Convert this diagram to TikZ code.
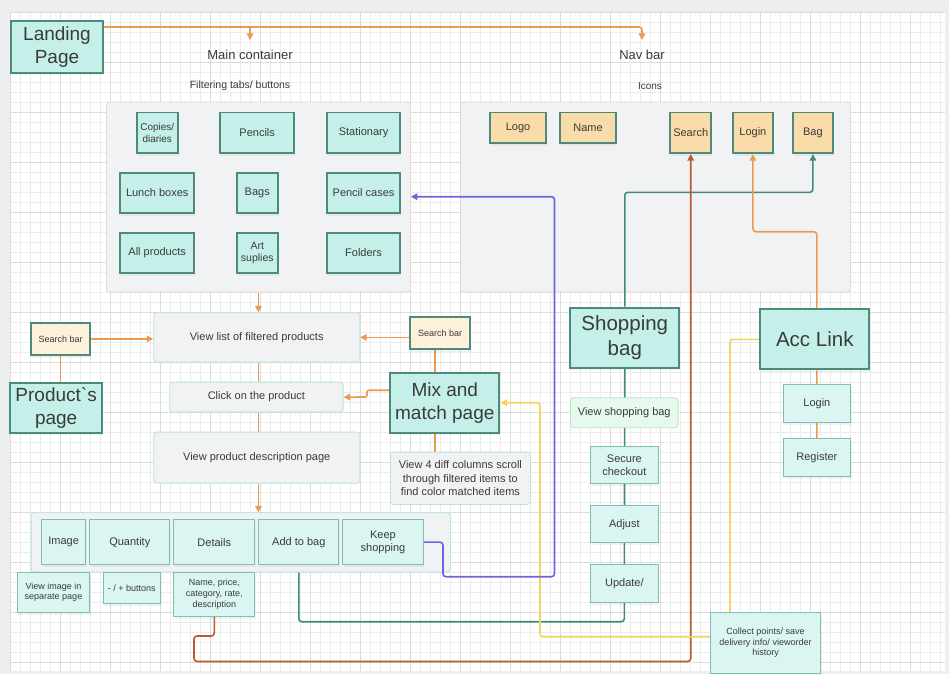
\documentclass[tikz,border=0pt]{standalone}
\usepackage{fontspec}
\setmainfont{Liberation Sans}
\newfontfamily\lsans{Liberation Sans}
\usetikzlibrary{arrows.meta,shadows}
\pgfdeclarelayer{bg}\pgfdeclarelayer{cont}\pgfdeclarelayer{mid}
\pgfsetlayers{bg,cont,mid,main}
\definecolor{bgout}{HTML}{EDEEF0}
\definecolor{gminorc}{HTML}{ECECEC}
\definecolor{gmajorc}{HTML}{DCDCDC}
\definecolor{txt}{HTML}{3A3A3A}
\definecolor{tealfill}{HTML}{C5F0E9}
\definecolor{tealdark}{HTML}{4E8A7B}
\definecolor{lteal}{HTML}{DBF6F2}
\definecolor{tealmid}{HTML}{7EBFB3}
\definecolor{greyfill}{HTML}{F1F2F4}
\definecolor{peach}{HTML}{F1D6C2}
\definecolor{greyedge}{HTML}{B9E3DB}
\definecolor{orfill}{HTML}{F9DCA9}
\definecolor{cream}{HTML}{FDF1DB}
\definecolor{gfill}{HTML}{E7F8EC}
\definecolor{gedge}{HTML}{B8E6C6}
\definecolor{orangec}{HTML}{EA9B50}
\definecolor{brownc}{HTML}{B65C2F}
\definecolor{tealline}{HTML}{3F8B7A}
\definecolor{yellowc}{HTML}{F4D35E}
\definecolor{purplec}{HTML}{6E63E0}
\newcommand\fsz[1]{\fontsize{#1}{\dimexpr #1pt*6/5\relax}\selectfont}
\newcommand\rbox[7]{\node[#1, anchor=north west, minimum width={(#4)-(#2)}, minimum height={(#5)-(#3)}] (#6) at (#2,#3) {#7};}
\tikzset{
  every node/.style={text=txt, align=center, inner sep=1pt, font=\lsans\fsz{11}},
  fs/.style={font=\lsans\fsz{#1}},
  sh/.style={drop shadow={opacity=0.10, shadow xshift=1pt, shadow yshift=-2.5pt}},
  bigbox/.style={draw=tealdark, line width=2pt, fill=tealfill, sh, fs=19},
  ibox/.style={draw=tealdark, line width=1.8pt, fill=tealfill, sh},
  obox/.style={draw=tealdark, line width=1.8pt, fill=orfill, sh},
  sbox/.style={draw=tealdark, line width=1.8pt, fill=cream, sh, fs=9},
  lbox/.style={draw=tealmid, line width=1pt, fill=lteal, sh},
  gbox/.style={draw=greyedge, line width=0.8pt, fill=greyfill, rounded corners=3pt},
  pbox/.style={draw=peach, line width=0.8pt, fill=greyfill, rounded corners=3pt},
  vbox/.style={draw=gedge, line width=0.8pt, fill=gfill, rounded corners=3pt},
  tip/.style={-{Triangle[width=6.5pt,length=6.5pt]}},
  conn/.style={line width=1.6pt, rounded corners=3pt},
  oline/.style={conn, draw=orangec},
  bline/.style={conn, draw=brownc},
  tline/.style={conn, draw=tealline},
  yline/.style={conn, draw=yellowc},
  pline/.style={conn, draw=purplec},
}
\begin{document}
\begin{tikzpicture}[x=1pt,y=-1pt]
\useasboundingbox (0,0) rectangle (949,674);
\begin{pgfonlayer}{bg}
\fill[bgout] (0,0) rectangle (949,674);
\fill[white] (10,12) rectangle (945,671);
\foreach \x in {10,20,...,940} \draw[gminorc, line width=0.6pt] (\x,12) -- (\x,671);
\foreach \y in {12,22,...,670} \draw[gminorc, line width=0.6pt] (10,\y) -- (945,\y);
\foreach \x in {10,60,...,910} \draw[gmajorc, line width=0.9pt] (\x,12) -- (\x,671);
\foreach \y in {12,62,...,662} \draw[gmajorc, line width=0.9pt] (10,\y) -- (945,\y);
\end{pgfonlayer}
\begin{pgfonlayer}{cont}
\rbox{pbox}{106}{101.7}{410}{291.7}{maincont}{}
\rbox{pbox}{460}{101.7}{850}{291.7}{navcont}{}
\rbox{gbox}{30.7}{512.3}{450}{571.7}{dcont}{}
\end{pgfonlayer}
% titles
\node[fs=13] (tmain) at (250,55) {Main container};
\node[fs=13] (tnav) at (642,55) {Nav bar};
\node[fs=10.5] (tfilt) at (240,86) {Filtering tabs/ buttons};
\node[fs=10] (ticons) at (650,86) {Icons};
% big boxes
\rbox{bigbox}{10}{20}{102}{72}{landing}{Landing\\Page}
\rbox{bigbox}{9.3}{381.7}{101}{431.7}{prodpage}{Product`s\\page}
\rbox{bigbox}{389.3}{371.7}{498.3}{431.7}{mix}{Mix and\\match page}
\rbox{bigbox, fs=20.5}{569.3}{306.7}{678.3}{366.7}{shopbag}{Shopping\\bag}
\rbox{bigbox, fs=20.5}{759.3}{308.3}{868.3}{368.3}{acclink}{Acc Link}
% filter tabs
\rbox{ibox, fs=10}{136}{111.7}{176.7}{152.3}{copies}{Copies/\\diaries}
\rbox{ibox}{219.3}{111.7}{293.3}{152.3}{pencils}{Pencils}
\rbox{ibox}{326}{111.7}{399.3}{152.3}{stationary}{Stationary}
\rbox{ibox}{119.3}{171.7}{193.3}{212.3}{lunch}{Lunch boxes}
\rbox{ibox}{236}{171.7}{276.7}{212.3}{bags}{Bags}
\rbox{ibox}{326}{171.7}{399.3}{212.3}{pcases}{Pencil cases}
\rbox{ibox}{119.3}{231.7}{193.3}{272.3}{allprod}{All products}
\rbox{ibox, fs=10.5}{236}{231.7}{276.7}{272.3}{art}{Art\\suplies}
\rbox{ibox}{326}{231.7}{399.3}{272.3}{folders}{Folders}
% nav icons
\rbox{obox}{489.3}{111.7}{545}{142.3}{logo}{Logo}
\rbox{obox}{559.3}{111.7}{615}{142.3}{name}{Name}
\rbox{obox}{669.3}{111.7}{710.3}{152.3}{search}{Search}
\rbox{obox}{731.7}{111.7}{772.3}{152.3}{loginnav}{Login}
\rbox{obox}{791.7}{111.7}{832.3}{152.3}{bagnav}{Bag}
% flow
\rbox{gbox}{153.3}{312.3}{359.3}{361.7}{viewlist}{View list of filtered products}
\rbox{sbox}{30}{321.7}{89.3}{354.3}{sbl}{Search bar}
\rbox{sbox}{409.3}{315.7}{469.3}{348.3}{sbr}{Search bar}
\rbox{gbox}{169.3}{381.7}{342.7}{411.7}{click}{Click on the product}
\rbox{gbox}{153.3}{431.7}{359.3}{482.7}{vpd}{View product description page}
\rbox{gbox}{390}{451.7}{530}{504}{view4}{View 4 diff columns scroll\\through filtered items to\\find color matched items}
% details row
\rbox{lbox}{41}{519.3}{85.3}{564}{image}{Image}
\rbox{lbox}{89.3}{519.3}{169.3}{564}{quantity}{Quantity}
\rbox{lbox}{173.3}{519.3}{254.3}{564}{details}{Details}
\rbox{lbox}{258.3}{519.3}{338.3}{564}{addbag}{Add to bag}
\rbox{lbox}{342.3}{519.3}{422.7}{564}{keep}{Keep\\shopping}
\rbox{lbox, fs=9}{16.7}{571.7}{89.3}{611.7}{note1}{View image in\\separate page}
\rbox{lbox, fs=9}{102.7}{571.7}{160}{603.3}{note2}{- / + buttons}
\rbox{lbox, fs=9}{173.3}{571.7}{254.3}{616}{note3}{Name, price,\\category, rate,\\description}
% shopping bag chain
\rbox{vbox}{570}{397.3}{677.7}{427.3}{vsb}{View shopping bag}
\rbox{lbox}{590}{446}{657.7}{483.3}{secure}{Secure\\checkout}
\rbox{lbox}{590}{505}{657.7}{542.3}{adjust}{Adjust}
\rbox{lbox}{590}{564}{657.7}{601.7}{update}{Update/}
% account chain
\rbox{lbox}{782.7}{384.3}{850}{422.3}{login}{Login}
\rbox{lbox}{782.7}{438.3}{850}{476}{register}{Register}
\rbox{lbox, fs=9}{710}{611.7}{820}{672.7}{collect}{Collect points/ save\\delivery info/ vieworder\\history}
% helper coordinates
\coordinate (mcend) at (250,40);
\coordinate (nbend) at (642,40);
\coordinate (lpout) at (102,27);
\coordinate (mj) at (367,397);
\coordinate (mx) at (435,0);
\coordinate (tj) at (0,192.3);
\coordinate (yb) at (0,621.7);
\coordinate (b1) at (194,636);
\coordinate (b2) at (194,661.5);
\coordinate (oj) at (0,231.7);
\coordinate (yj) at (730,0);
\coordinate (yk) at (540,0);
\coordinate (pA) at (443,576.7);
\coordinate (pB) at (554.5,196.7);
\begin{pgfonlayer}{mid}
% landing page
\draw[oline, tip] (lpout) -| (nbend);
\draw[oline, tip] (mcend |- lpout) -- (mcend);
% main flow
\draw[oline, tip] (maincont.south) -- (maincont.south |- viewlist.north);
\draw[oline, tip] (sbl.east) -- (sbl.east -| viewlist.west);
\draw[oline] (sbl.south) -- (sbl.south |- prodpage.north);
\draw[oline, tip] (sbr.west |- viewlist.east) -- (viewlist.east);
\draw[oline] (mx |- sbr.south) -- (mx |- mix.north);
\draw[oline, tip, rounded corners=2pt] ([yshift=12.5pt]mix.west) -| (mj) -- (click.east);
\draw[oline] (maincont.south |- viewlist.south) -- (maincont.south |- click.north);
\draw[oline] (maincont.south |- click.south) -- (maincont.south |- vpd.north);
\draw[oline, tip] (maincont.south |- vpd.south) -- (maincont.south |- dcont.north);
\draw[oline] (mx |- mix.south) -- (mx |- view4.north);
% shopping bag
\draw[tline] (shopbag.south) -- (update.north);
\draw[tline, tip] (shopbag.north) -- (shopbag.north |- tj) -| (bagnav.south);
\draw[tline] (addbag.south |- dcont.south) -- (addbag.south |- yb) -| (update.south);
% search (brown)
\draw[bline, tip] (note3.south) |- (b1) -- (b2) -| (search.south);
% account
\draw[oline, tip] ([xshift=2pt]acclink.north) -- ([xshift=2pt]acclink.north |- oj) -| (loginnav.south);
\draw[oline] ([xshift=2pt]acclink.south) -- (register.north);
\draw[yline] (acclink.west) -| (yj |- collect.north);
\draw[yline, tip] ([yshift=6pt]collect.west) -| (yk |- mix.east) -- (mix.east);
% keep shopping
\draw[pline, tip] (keep.east) -| (pA) -| (pB) -- (maincont.east |- pB);
\end{pgfonlayer}
\end{tikzpicture}
\end{document}
